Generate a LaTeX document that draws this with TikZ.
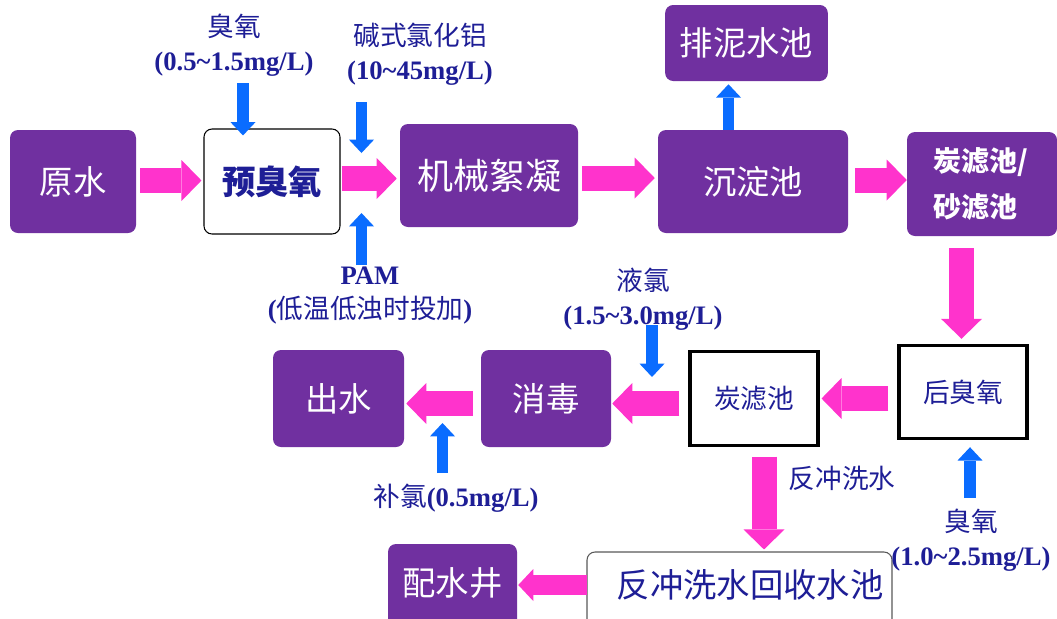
\documentclass[tikz,border=0pt]{standalone}
\usepackage{fontspec}
\setmainfont{Liberation Serif}
\newfontfamily\cjk{Noto Sans CJK SC}
\usetikzlibrary{arrows.meta,calc}
\definecolor{purp}{HTML}{7030A0}
\definecolor{pinkc}{HTML}{FF33CC}
\definecolor{bluec}{HTML}{0A6CFF}
\definecolor{navy}{HTML}{1E1E96}
\begin{document}
\begin{tikzpicture}[x=0.75pt,y=-0.75pt,
  pbox/.style={fill=purp, rounded corners=6pt, text=white, inner sep=0pt,
    font=\cjk\fontsize{25}{30}\selectfont},
  wbox/.style={fill=white, draw=black, rounded corners=6pt, line width=0.8pt,
    text=navy, inner sep=0pt, font=\cjk\bfseries\fontsize{25}{30}\selectfont},
  sqbox/.style={fill=white, draw=black, line width=2.3pt, text=navy, inner sep=0pt,
    font=\cjk\fontsize{20}{24}\selectfont, minimum width=96pt, minimum height=70pt},
  lbl/.style={text=navy, align=center, inner sep=0pt, font=\fontsize{20}{25.5}\selectfont},
  pinkarr/.style={draw=pinkc, line width=18.75pt,
    -{Triangle[length=15pt, width=30.75pt, line width=0pt]}},
  pinksmall/.style={draw=pinkc, line width=15pt,
    -{Triangle[length=11.25pt, width=24pt, line width=0pt]}},
  bluearr/.style={draw=bluec, line width=8.6pt,
    -{Triangle[length=10pt, width=18.75pt, line width=0pt]}}
]
\useasboundingbox (0,0) rectangle (1057,618);

% process boxes
\node[pbox, minimum width=94.5pt, minimum height=77.25pt] (yuan) at (73,181.5) {原水};
\node[wbox, minimum width=102pt, minimum height=78.75pt] (pre) at (272,181.5) {预臭氧};
\node[pbox, minimum width=133.5pt, minimum height=77.25pt, font=\cjk\fontsize{27}{30}\selectfont] (mech) at (489,175.5) {机械絮凝};
\node[pbox, minimum width=142.5pt, minimum height=77.25pt] (sed) at (753,181.5) {沉淀池};
\node[pbox, text width=73.5pt, inner xsep=19.5pt, minimum height=78pt, align=left,
  font=\cjk\bfseries\fontsize{21}{34.5}\selectfont] (filt) at (982,184) {炭滤池/\\砂滤池};
\node[pbox, minimum width=122pt, minimum height=57pt] (mud) at (746.5,43) {排泥水池};
\node[sqbox] (post) at (963,392) {后臭氧};
\node[sqbox] (carb) at (754,398.5) {炭滤池};
\node[pbox, minimum width=97.5pt, minimum height=72.75pt] (dis) at (546,398.5) {消毒};
\node[pbox, minimum width=98.25pt, minimum height=72.75pt] (out) at (338.5,398.5) {出水};
\node[fill=white, draw=black!65, rounded corners=6pt, line width=0.8pt,
  minimum width=228.75pt, minimum height=72pt] (recbox) at (739.5,600) {};
\node[text=navy, inner sep=0pt, font=\cjk\fontsize{25}{30}\selectfont] (rec) at (750,585) {反冲洗水回收水池};
\node[fill=purp, rounded corners=6pt, minimum width=96.75pt, minimum height=72pt] (wellbox) at (452.5,592) {};
\node[text=white, inner sep=0pt, font=\cjk\fontsize{25}{30}\selectfont] (well) at (452.5,583) {配水井};

% labels
\node[lbl] (la) at (234,45) {{\cjk 臭氧}\\\textbf{(0.5\textasciitilde1.5mg/L)}};
\node[lbl] (lb) at (420,54) {{\cjk 碱式氯化铝}\\\textbf{(10\textasciitilde45mg/L)}};
\node[lbl] (lc) at (370,296) {\textbf{PAM}\\\textbf{(}{\cjk 低温低浊时投加}\textbf{)}};
\node[lbl] (ld) at (643,299) {{\cjk 液氯}\\\textbf{(1.5\textasciitilde3.0mg/L)}};
\node[lbl] (le) at (456,498) {{\cjk 补氯}\textbf{(0.5mg/L)}};
\node[lbl] (lf) at (842,478) {\cjk 反冲洗水};
\node[lbl] (lg) at (971,540) {{\cjk 臭氧}\\\textbf{(1.0\textasciitilde2.5mg/L)}};

% free ends of dosing arrows
\coordinate (a1) at (243,83);
\coordinate (b1) at (361.5,102);
\coordinate (b2) at (361.5,153);
\coordinate (c1) at (361.5,265);
\coordinate (c2) at (361.5,213);
\coordinate (d1) at (652,325);
\coordinate (d2) at (652,377);
\coordinate (e1) at (442.5,473);
\coordinate (e2) at (442.5,423);

% main flow (pink)
\draw[pinkarr] ($(yuan.east)+(4,-1)$) -- ($(pre.west)+(-2,-1)$);
\draw[pinkarr] ($(pre.east)+(1,-3)$) -- ($(mech.west |- pre.east)+(-3,-3)$);
\draw[pinkarr] ($(mech.east)+(4,2.5)$) -- ($(sed.west |- mech.east)+(-3,2.5)$);
\draw[pinkarr] ($(sed.east)+(7,-1.5)$) -- ($(filt.west |- sed.east)+(0,-1.5)$);
\draw[pinkarr] ($(post.north |- filt.south)+(-1.5,12)$) -- ($(post.north)+(-1.5,-5)$);
\draw[pinkarr] ($(post.west |- carb.east)+(-9,0)$) -- ($(carb.east)+(2,0)$);
\draw[pinkarr] ($(carb.west)+(-9,5)$) -- ($(dis.east |- carb.west)+(1,5)$);
\draw[pinkarr] ($(dis.west)+(-8,5)$) -- ($(out.east)+(2,5)$);
\draw[pinkarr] ($(carb.south)+(10,10)$) -- ($(recbox.north -| carb.south)+(10,-2)$);
\draw[pinksmall] ($(recbox.west |- rec.west)+(1,0)$) -- ($(wellbox.east |- rec.west)+(1,0)$);

% dosing (blue)
\draw[bluearr] (a1) -- ($(a1 |- pre.north)+(0,7)$);
\draw[bluearr] (b1) -- (b2);
\draw[bluearr] (c1) -- (c2);
\draw[bluearr] ($(sed.north)+(-24.5,0)$) -- ($(mud.south)+(-18,3)$);
\draw[bluearr] (d1) -- (d2);
\draw[bluearr] (e1) -- (e2);
\draw[bluearr] ($(post.south)+(7,58)$) -- ($(post.south)+(7,7)$);
\end{tikzpicture}
\end{document}
